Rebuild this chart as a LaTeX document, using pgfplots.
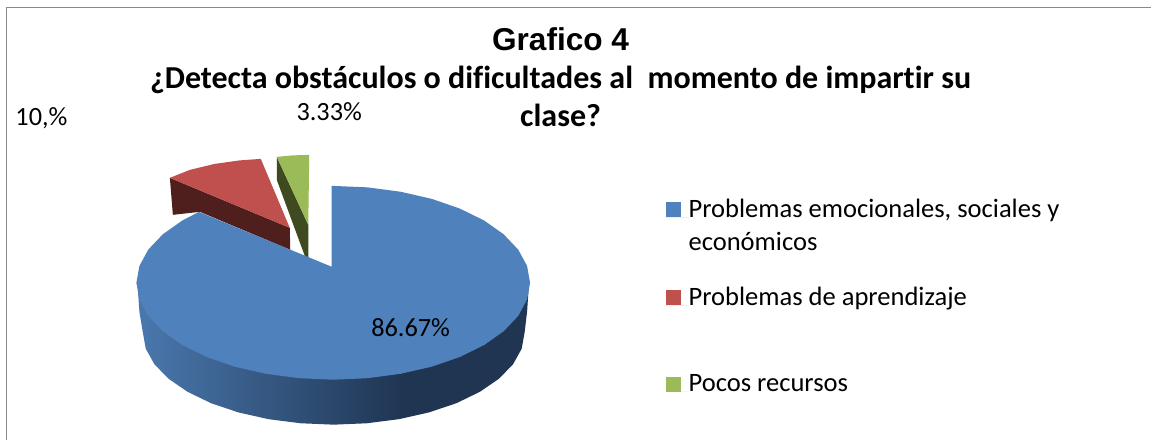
\documentclass[border=0pt]{standalone}
\usepackage{fontspec}
\setmainfont{Carlito}[Ligatures=NoCommon]
\newfontfamily\arialfont{Liberation Sans}
\usepackage{pgfplots}
\pgfplotsset{compat=1.18}

\definecolor{pieblue}{HTML}{4F81BD}
\definecolor{piered}{HTML}{C0504D}
\definecolor{piegreen}{HTML}{9BBB59}
\definecolor{wallred}{HTML}{4F1F1E}
\definecolor{wallgreen}{HTML}{3F4A20}
\definecolor{walla}{HTML}{4A78AE}
\definecolor{wallb}{HTML}{1F3552}
\definecolor{framegray}{HTML}{8A8A8A}

% side of the blue slice: lighter on the left, dark from about x=403
\pgfdeclarehorizontalshading{bluewall}{100bp}{color(0bp)=(walla); color(25bp)=(walla); color(59bp)=(wallb); color(100bp)=(wallb)}

\begin{document}
\begin{tikzpicture}
\begin{axis}[
    width=864bp,
    height=330bp,
    scale only axis,
    xmin=0, xmax=1152,
    ymin=0, ymax=440,
    y dir=reverse,
    axis lines=none,
    clip=false,
    title={{\arialfont\bfseries\fontsize{23.8}{28.8}\selectfont Grafico 4}\\
           {\bfseries ¿Detecta obstáculos o dificultades al\ \ momento de impartir su}\\
           {\bfseries clase?}},
    title style={at={(axis description cs:0.487,0.920)}, anchor=north, align=center,
        inner sep=0pt, font=\fontsize{24.1}{28.8}\selectfont},
    legend style={
        at={(axis description cs:0.578,0.549)},
        anchor=north west,
        draw=none, fill=none,
        inner sep=0pt,
        row sep=0pt,
        nodes={inner sep=0pt, text depth={}},
        cells={anchor=base west},
        font=\fontsize{20}{24.75}\selectfont,
    },
    legend image code/.code={
        \fill[#1] (0bp,0bp) rectangle (11.25bp,11.25bp);
        \path (0bp,0bp) -- (17.25bp,0bp);
    },
]
% white page and chart frame
\addplot[fill=white, draw=none, forget plot] coordinates {(0,0) (1152,0) (1152,440) (0,440)} --cycle;
\addplot[framegray, line width=1.4bp, forget plot] coordinates {(6.5,440) (6.5,7.5) (1152,7.5)};

% red slice
\addplot[fill=wallred, draw=none, forget plot] coordinates {(170,178) (290,228) (290.5,250) (200,212) (173,215)} --cycle;
\addplot[fill=piered, draw=none, forget plot] coordinates {(170,178) (190,170) (215,164) (240,160.5) (261,159) (290,228)} --cycle;

% green slice
\addplot[fill=wallgreen, draw=none, forget plot] coordinates {(277,157) (308.5,225) (308.5,258) (305,256) (277,180)} --cycle;
\addplot[fill=piegreen, draw=none, forget plot] coordinates {(277,157) (293,155.5) (309.5,155) (308.5,225)} --cycle;

% blue slice, side wall
\addplot[shading=bluewall, draw=none, forget plot] coordinates {
    (529,290) (527.5,312) (525,333) (522.1,349) (513.5,364.5) (499.4,379) (480.3,392.1)
    (456.8,403.5) (429.5,412.7) (399.3,419.5) (367.2,423.6) (334,425) (300.8,423.6)
    (268.7,419.5) (238.5,412.7) (211.2,403.5) (187.7,392.1) (168.6,379) (154.5,364.5)
    (145.9,349) (143,333) (139.5,312) (138,290)
} --cycle;
% blue slice, top
\addplot[fill=pieblue, draw=none, forget plot] coordinates {
    (332,186) (367.7,187.5) (400.9,191.9) (432,199) (460.1,208.7) (484.4,220.6) (504.1,234.5)
    (518.6,249.8) (527.5,266.2) (530.5,283) (527.5,299.8) (518.6,316.2) (504.1,331.5)
    (484.4,345.4) (460.1,357.3) (432,367) (400.9,374.1) (367.7,378.5) (333.5,380)
    (299.3,378.5) (266.1,374.1) (235,367) (206.9,357.3) (182.6,345.4) (162.9,331.5)
    (148.4,316.2) (139.5,299.8) (136.5,283) (139.5,266.2) (148.4,249.8) (162.9,234.5)
    (182.6,220.6) (199.1,212.1) (332,267)
} --cycle;

\addlegendimage{fill=pieblue, draw=none}
\addlegendentry{\parbox[t]{300bp}{\rule{0pt}{14bp}Problemas emocionales, sociales y\\econ\'omicos\rule[-27.25bp]{0pt}{0pt}}}
\addlegendimage{fill=piered, draw=none}
\addlegendentry{\parbox[t]{300bp}{\rule{0pt}{14bp}Problemas de aprendizaje\rule[-51.25bp]{0pt}{0pt}}}
\addlegendimage{fill=piegreen, draw=none}
\addlegendentry{\parbox[t]{300bp}{\rule{0pt}{14bp}Pocos recursos}}

% data labels
\node[anchor=center, inner sep=0pt, font=\fontsize{19.8}{24}\selectfont] at (axis cs:411,328) {86.67\%};
\node[anchor=center, inner sep=0pt, font=\fontsize{19.8}{24}\selectfont] at (axis cs:41.5,118) {10,\%};
\node[anchor=center, inner sep=0pt, font=\fontsize{19.8}{24}\selectfont] at (axis cs:329.5,112) {3.33\%};
\end{axis}
\end{tikzpicture}
\end{document}
